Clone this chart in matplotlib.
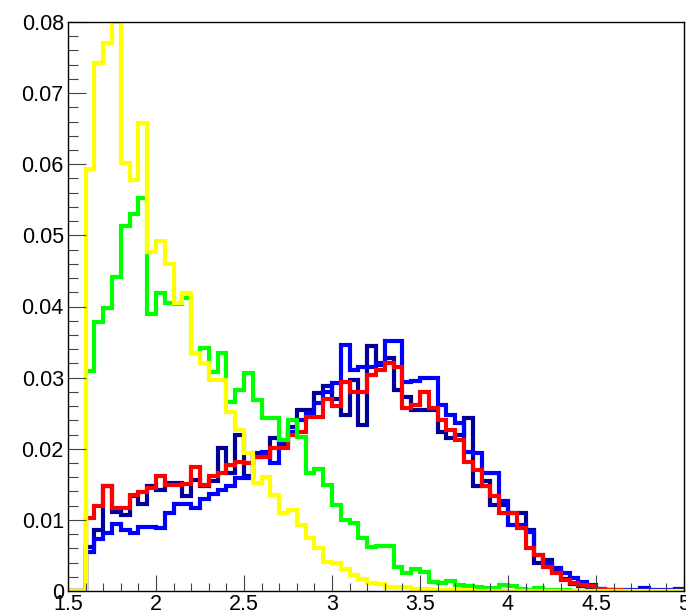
import numpy as np
import matplotlib
matplotlib.use("Agg")
import matplotlib.pyplot as plt
from matplotlib.ticker import MultipleLocator, FuncFormatter

# bin contents (x 1e-3), 70 bins of 0.05 from 1.5 to 5.0; missing tail bins are empty
edges = np.linspace(1.5, 5.0, 71)

yellow = [0, 0, 59.3, 74.2, 77.0, 80.0, 60.2, 57.8, 65.8, 47.7, 49.2, 46.0, 40.5, 41.9,
          33.5, 32.1, 29.7, 29.7, 25.2, 22.6, 19.4, 15.2, 16.0, 13.5, 11.0, 11.4, 9.3,
          7.5, 6.0, 4.1, 4.0, 3.1, 2.3, 1.7, 1.1, 1.0, 0.6, 0.6, 0.5, 0.3, 0.3, 0.2,
          0.2, 0.1, 0.1, 0.1]
green = [0, 0, 31.0, 37.8, 39.8, 44.2, 51.3, 53.0, 55.2, 39.0, 41.9, 40.5, 40.4, 41.2,
         33.5, 34.2, 30.8, 33.5, 26.6, 28.3, 30.7, 26.9, 24.3, 24.3, 21.2, 24.0, 21.7,
         16.6, 17.2, 14.9, 12.1, 10.0, 9.6, 7.5, 6.2, 6.3, 6.3, 3.4, 2.5, 3.1, 2.7,
         1.2, 1.1, 1.4, 0.8, 0.7, 0.5, 0.4, 0.4, 0.8, 0.7, 0.3, 0.2, 0.4, 0.2, 0.1, 0.1]
red = [0, 0, 10.2, 11.9, 14.7, 11.7, 11.7, 13.5, 13.9, 14.5, 16.1, 14.9, 14.9, 15.0,
       17.5, 14.9, 16.1, 16.6, 17.7, 18.2, 18.0, 18.9, 18.9, 20.1, 20.1, 21.9, 22.4,
       24.5, 24.5, 27.0, 26.0, 29.4, 28.0, 28.0, 30.4, 31.1, 32.0, 31.5, 25.7, 26.2,
       28.0, 25.7, 24.0, 22.6, 21.3, 18.2, 17.0, 14.7, 13.3, 10.9, 10.9, 8.9, 6.0,
       5.1, 3.4, 2.5, 1.5, 1.1, 0.9, 0.7, 0.3, 0.2, 0.1]
navy = [0, 0, 6.2, 8.6, 14.7, 11.1, 10.7, 13.3, 12.3, 14.7, 14.2, 15.2, 15.2, 13.4,
        15.6, 14.7, 15.4, 20.1, 16.6, 21.9, 16.1, 19.4, 19.0, 21.5, 20.5, 23.1, 25.5,
        25.5, 27.8, 28.8, 27.0, 24.8, 29.7, 23.4, 34.4, 31.8, 32.8, 28.3, 27.3, 25.5,
        25.5, 25.5, 22.4, 21.5, 21.9, 24.3, 14.7, 15.4, 12.1, 12.1, 10.9, 10.9, 8.6,
        3.9, 4.4, 3.0, 1.7, 1.0, 0.7, 0.4, 0.2, 0.1]
blue = [0, 0, 5.5, 7.3, 8.1, 9.4, 8.6, 8.1, 9.0, 9.0, 8.8, 10.9, 12.3, 12.3, 11.7,
        13.0, 13.6, 14.2, 14.7, 15.9, 15.9, 18.9, 19.5, 18.0, 21.0, 22.4, 24.0, 25.0,
        26.4, 28.0, 29.2, 34.6, 31.1, 31.5, 31.5, 32.0, 35.2, 35.2, 29.4, 29.5, 30.0,
        30.0, 26.2, 24.8, 23.6, 19.6, 19.4, 16.6, 16.6, 12.6, 9.3, 9.3, 8.3, 5.1, 3.9,
        3.2, 2.5, 1.8, 1.3, 0.8, 0.3, 0.2, 0.1, 0.1, 0.1, 0.4, 0.1, 0.1, 0.1, 0.3]


def full(v):
    v = np.asarray(v, dtype=float) / 1000.0
    return np.r_[v, np.zeros(len(edges) - 1 - len(v))]


plt.rcParams['font.family'] = ['Liberation Sans', 'DejaVu Sans']

fig = plt.figure(figsize=(6.86, 6.13), dpi=100)
ax = fig.add_axes([68 / 686, 1 - 591 / 613, 616 / 686, 569 / 613])

# drawing order as in the original canvas
for vals, col in [(navy, '#000099'), (blue, '#0000ff'), (red, '#ff0000'),
                  (green, '#00ff00'), (yellow, '#ffff00')]:
    ax.stairs(full(vals), edges, color=col, lw=3, baseline=0, clip_on=True)

ax.set_xlim(1.5, 5.0)
ax.set_ylim(0, 0.08)

ax.xaxis.set_major_locator(MultipleLocator(0.5))
ax.xaxis.set_minor_locator(MultipleLocator(0.1))
ax.yaxis.set_major_locator(MultipleLocator(0.01))
ax.yaxis.set_minor_locator(MultipleLocator(0.002))

ax.xaxis.set_major_formatter(FuncFormatter(lambda v, p: f"{v:g}"))
ax.yaxis.set_major_formatter(FuncFormatter(lambda v, p: f"{round(v, 3):g}"))

ax.tick_params(axis='both', which='both', direction='in', top=False, right=False,
               color='#444444', width=0.8, labelsize=15.5)
ax.tick_params(axis='y', which='major', length=13, pad=3)
ax.tick_params(axis='y', which='minor', length=7)
ax.tick_params(axis='x', which='major', length=11.5, pad=2)
ax.tick_params(axis='x', which='minor', length=6)

for s in ax.spines.values():
    s.set_linewidth(1.0)
    s.set_color('black')

fig.savefig("out.png", dpi=100)
